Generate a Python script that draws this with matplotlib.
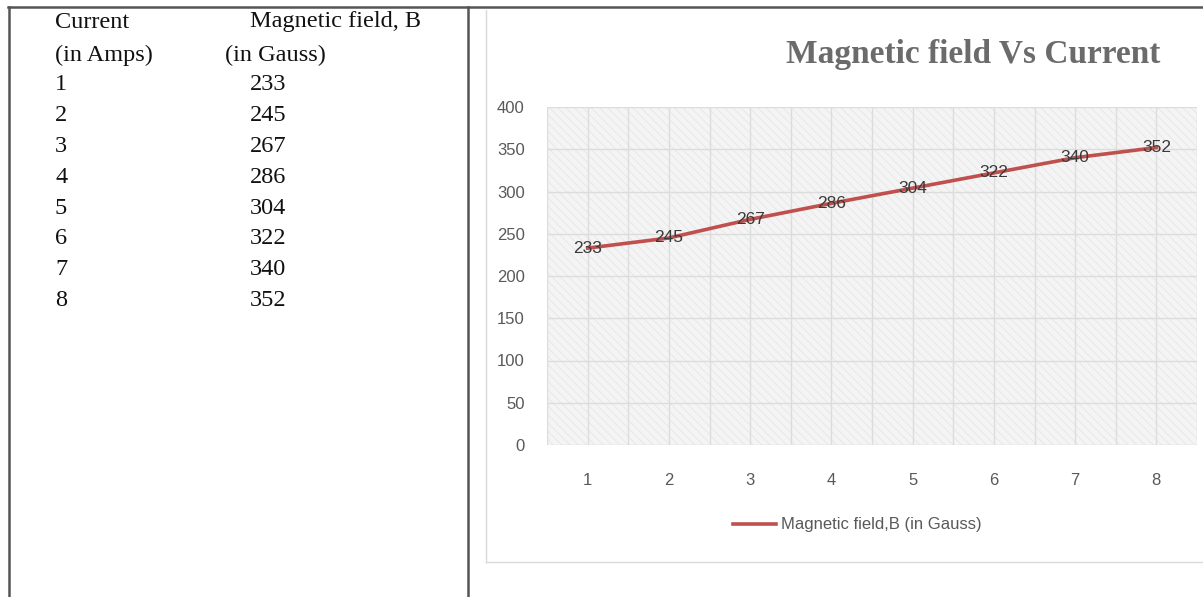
import matplotlib.pyplot as plt
from matplotlib.patches import Rectangle
from matplotlib.lines import Line2D

current = [1, 2, 3, 4, 5, 6, 7, 8]
field = [233, 245, 267, 286, 304, 322, 340, 352]
y_ticks = [0, 50, 100, 150, 200, 250, 300, 350, 400]

red = '#c0504d'
axis_grey = '#595959'
narrow = ['Liberation Sans Narrow', 'Liberation Sans', 'DejaVu Sans']

plt.rcParams['hatch.linewidth'] = 0.5
plt.rcParams['hatch.color'] = '#e2e2e2'

fig = plt.figure(figsize=(12.03, 5.97), dpi=100)
W, H = 1203, 597

def fx(px):
    return px / W

def fy(py):
    return 1 - py / H

# page borders
fig.add_artist(Line2D([fx(8), 1], [fy(7), fy(7)], color='#555555', lw=1.8))
fig.add_artist(Line2D([fx(9), fx(9)], [fy(7), 0], color='#555555', lw=1.8))
fig.add_artist(Line2D([fx(468), fx(468)], [fy(7), 0], color='#555555', lw=1.8))

# chart area frame
fig.add_artist(Line2D([fx(486), fx(486)], [fy(10), fy(562)], color='#d9d9d9', lw=1.0))
fig.add_artist(Line2D([fx(486), 1], [fy(562), fy(562)], color='#d9d9d9', lw=1.0))

# data table on the left
serif = 'Liberation Serif'
tsize = 17.5
fig.text(fx(55), fy(22), 'Current', fontsize=tsize, family=serif, va='center', color='#111111')
fig.text(fx(55), fy(55), '(in Amps)', fontsize=tsize, family=serif, va='center', color='#111111')
fig.text(fx(250), fy(22), 'Magnetic field, B', fontsize=tsize, family=serif, va='center', color='#111111')
fig.text(fx(225), fy(55), '(in Gauss)', fontsize=tsize, family=serif, va='center', color='#111111')
for i, (c, b) in enumerate(zip(current, field)):
    yy = 85 + i * 30.8
    fig.text(fx(55), fy(yy), str(c), fontsize=tsize, family=serif, va='center', color='#111111')
    fig.text(fx(250), fy(yy), str(b), fontsize=tsize, family=serif, va='center', color='#111111')

# chart
ax = fig.add_axes([fx(547), fy(445), fx(1197) - fx(547), fy(107) - fy(445)])
ax.set_facecolor('#f4f4f4')
ax.add_patch(Rectangle((0, 0), 1, 1, transform=ax.transAxes, facecolor='none',
                       edgecolor='#e4e4e4', hatch='\\\\\\\\', lw=0, zorder=0))
ax.set_xlim(0.5, 8.5)
ax.set_ylim(0, 400)

for gx in [0.5 + 0.5 * k for k in range(17)]:
    ax.axvline(gx, color='#dcdcdc', lw=1.0, zorder=1)
for gy in y_ticks:
    ax.axhline(gy, color='#dcdcdc', lw=1.0, zorder=1)

ax.plot(current, field, color=red, lw=2.6, zorder=3,
        label='Magnetic field,B (in Gauss)')
for c, b in zip(current, field):
    ax.text(c, b, str(b), ha='center', va='center', fontsize=12.5,
            family=narrow, color='#3a3a3a', zorder=4)

for s in ax.spines.values():
    s.set_visible(False)
ax.set_xticks(current)
ax.set_yticks(y_ticks)
ax.tick_params(length=0, colors=axis_grey, labelsize=12)
ax.tick_params(axis='x', pad=20)
ax.tick_params(axis='y', pad=16)
for lab in ax.get_xticklabels() + ax.get_yticklabels():
    lab.set_family(narrow)

fig.text(fx(1160), fy(55), 'Magnetic field Vs Current', ha='right', va='center',
         fontsize=24, color='#6b6b6b', weight='bold',
         family=['DejaVu Serif Condensed', 'Liberation Serif'], stretch='condensed')

leg = ax.legend(loc='center', bbox_to_anchor=(fx(857), fy(525)),
                bbox_transform=fig.transFigure, frameon=False,
                prop={'family': narrow, 'size': 12}, handlelength=2.6,
                handletextpad=0.3)
for t in leg.get_texts():
    t.set_color(axis_grey)

fig.savefig('out.png', dpi=100, facecolor='white')
